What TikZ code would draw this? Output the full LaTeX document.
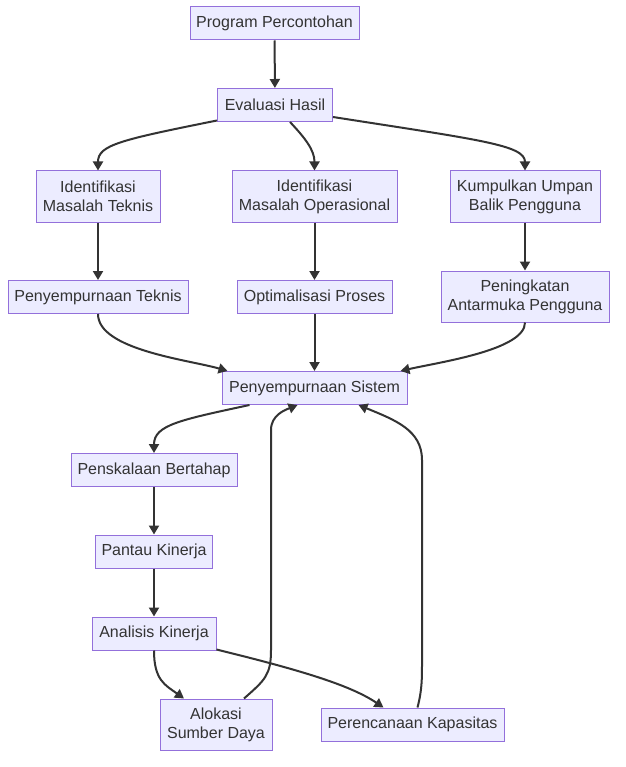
\documentclass[tikz,border=0pt]{standalone}
\usepackage{fontspec}
\setmainfont{Liberation Sans}
\usetikzlibrary{arrows.meta}
\definecolor{nodefill}{HTML}{ECECFF}
\definecolor{nodeline}{HTML}{9370DB}
\definecolor{txt}{HTML}{333333}
\tikzset{
  box/.style={draw=nodeline, fill=nodefill, line width=1pt, text=txt, align=center,
    inner sep=0pt, font=\fontsize{16}{19}\selectfont},
  one/.style={minimum height=33pt},
  two/.style={minimum height=51pt},
  edge/.style={draw=txt, line width=2pt, -{Triangle[length=9pt,width=10pt]}}
}
\begin{document}
\begin{tikzpicture}[x=1pt,y=-1pt]
\useasboundingbox[fill=white] (0,0) rectangle (625,767);
\node[box,one,minimum width=169pt] (pp) at (274.5,23.5) {Program Percontohan};
\node[box,one,minimum width=115pt] (ev) at (275,105) {Evaluasi Hasil};
\node[box,two,minimum width=124pt] (idt) at (98,196.5) {Identifikasi\\Masalah Teknis};
\node[box,two,minimum width=165pt] (ido) at (314.5,196.5) {Identifikasi\\Masalah Operasional};
\node[box,two,minimum width=150pt] (kum) at (525,196.5) {Kumpulkan Umpan\\Balik Pengguna};
\node[box,one,minimum width=180pt] (pt) at (98,297) {Penyempurnaan Teknis};
\node[box,one,minimum width=155pt] (op) at (314.5,297) {Optimalisasi Proses};
\node[box,two,minimum width=168pt] (pa) at (525,296.5) {Peningkatan\\Antarmuka Pengguna};
\node[box,one,minimum width=185pt] (ps) at (314.5,388) {Penyempurnaan Sistem};
\node[box,one,minimum width=166pt] (pb) at (154,470) {Penskalaan Bertahap};
\node[box,one,minimum width=117pt] (pk2) at (154,551.5) {Pantau Kinerja};
\node[box,one,minimum width=124pt] (an) at (154,633.5) {Analisis Kinerja};
\node[box,two,minimum width=112pt] (al) at (216,724.5) {Alokasi\\Sumber Daya};
\node[box,one,minimum width=183pt] (pk) at (412.5,724.5) {Perencanaan Kapasitas};

\draw[edge] (pp) -- (ev);
\draw[edge] ([yshift=1.5pt]ev.south west) .. controls (120,140) and (98,145) .. (idt.north);
\draw[edge] ([xshift=15pt]ev.south) .. controls (305,138) and (314.5,150) .. (ido.north);
\draw[edge] ([yshift=5pt]ev.south east) .. controls (480,140) and (525,145) .. (kum.north);
\draw[edge] (idt) -- (pt);
\draw[edge] (ido) -- (op);
\draw[edge] (kum) -- (pa);
\draw[edge] (pt.south) .. controls (98,350) and (190,360) .. ([xshift=6pt]ps.north west);
\draw[edge] (op) -- (ps);
\draw[edge] (pa.south) .. controls (525,350) and (440,362) .. ([xshift=-7pt]ps.north east);
\draw[edge] ([xshift=28pt]ps.south west) .. controls (180,420) and (154,425) .. (pb.north);
\draw[edge] (pb) -- (pk2);
\draw[edge] (pk2) -- (an);
\draw[edge] (an.south) .. controls (154,680) and (165,685) .. ([xshift=-32pt]al.north);
\draw[edge] ([yshift=1pt]an.south east) .. controls (300,670) and (350,685) .. ([xshift=-29pt]pk.north);
\draw[edge] ([xshift=28pt]al.north) .. controls (265,680) and (271,675) .. (271,650)
  -- (271,430) .. controls (271,415) and (285,410) .. ([xshift=-17pt]ps.south);
\draw[edge] ([xshift=5pt]pk.north) .. controls (422,690) and (422,680) .. (422,660)
  -- (422,460) .. controls (422,430) and (395,420) .. ([xshift=44pt]ps.south);
\end{tikzpicture}
\end{document}
